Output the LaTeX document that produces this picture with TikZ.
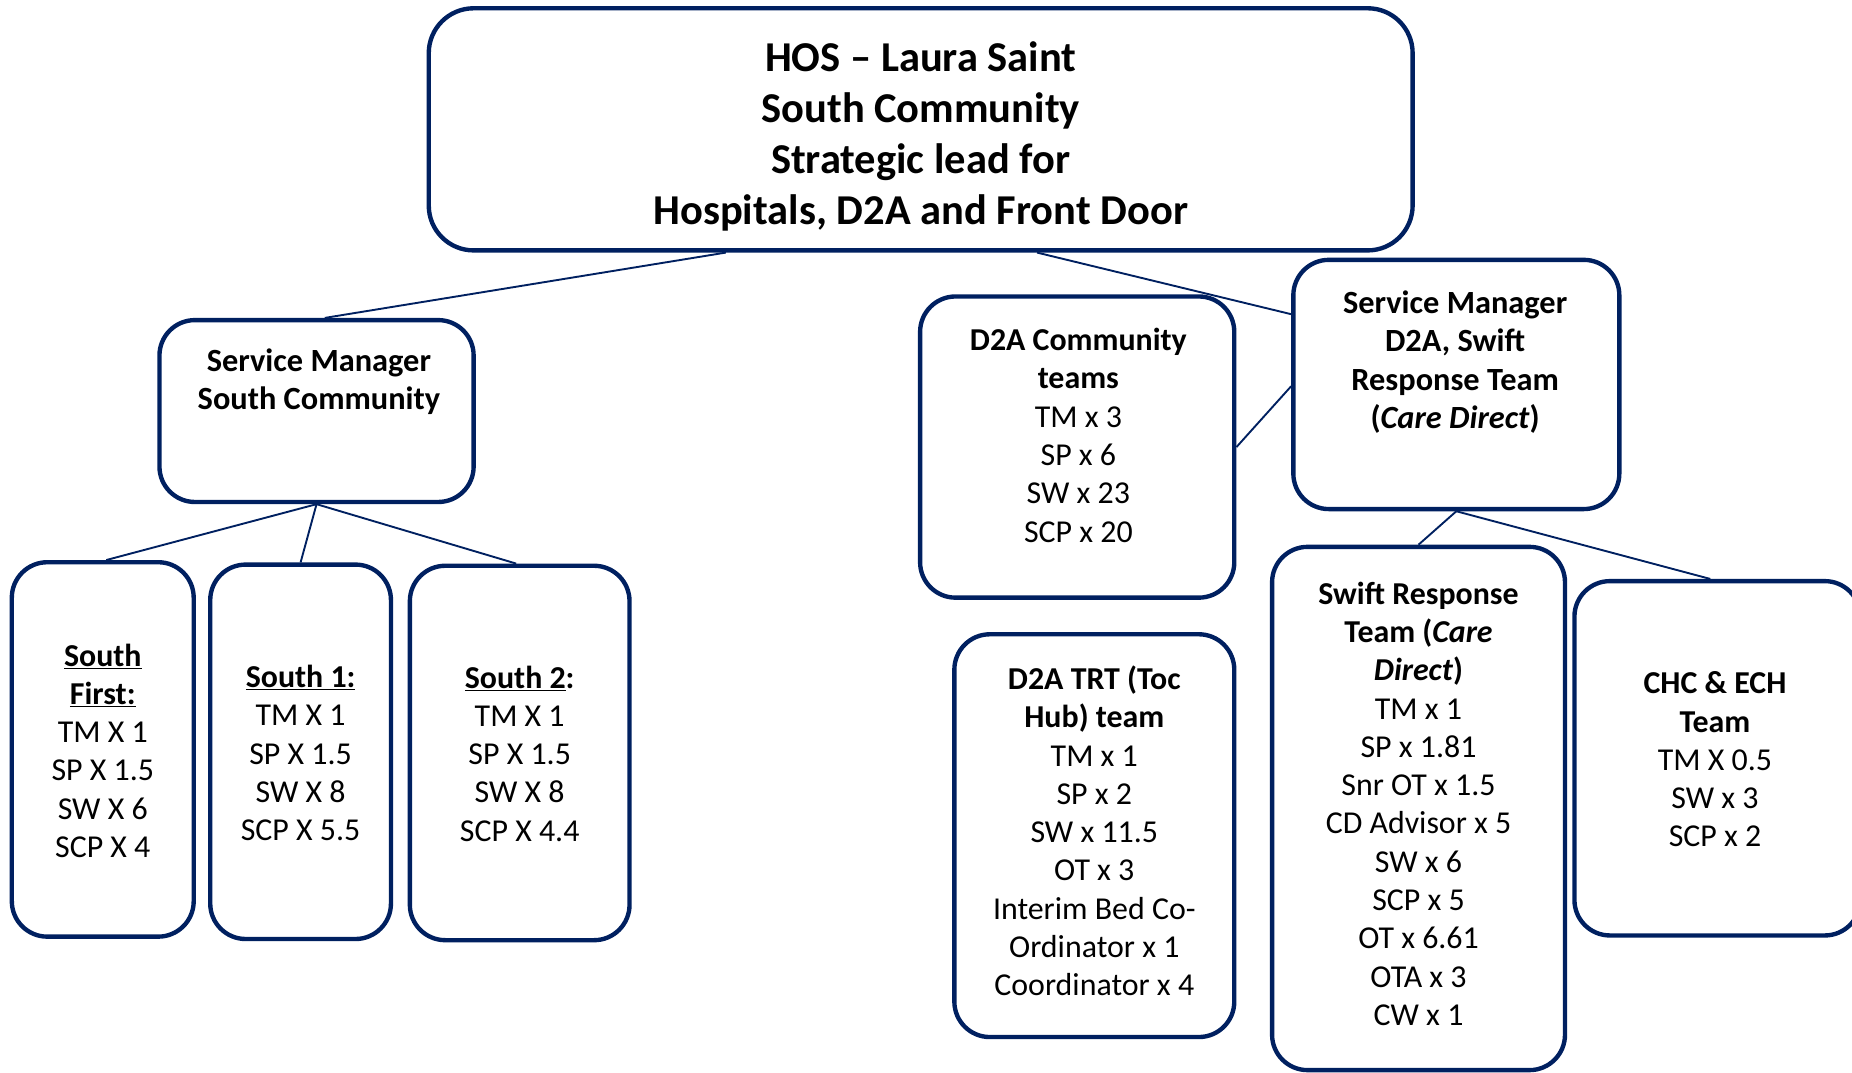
\documentclass[tikz,border=0pt]{standalone}
\usepackage{fontspec}
\setmainfont{Carlito}
\definecolor{navy}{HTML}{002060}
\tikzset{
  unit/.style={draw=navy, line width=3.7pt, rounded corners=30pt, inner sep=0pt},
  staff/.style={align=center, inner sep=0pt, font=\fontsize{27}{32.4}\selectfont},
  link/.style={navy, line width=1.6pt},
}

\begin{document}
\begin{tikzpicture}[x=1pt,y=-1pt]
		\useasboundingbox (0,0) rectangle (1568,908);
		% frames
		\node[unit, rounded corners=38pt, minimum width=833, minimum height=205] (hos) at (779.5,109.5) {};
		\node[unit, minimum width=266, minimum height=154] (smS) at (268,348) {};
		\node[unit, minimum width=154, minimum height=317] (sFirst) at (87,634.5) {};
		\node[unit, minimum width=153, minimum height=317] (sOne) at (254.5,636.5) {};
		\node[unit, minimum width=186, minimum height=317] (sTwo) at (440,637.5) {};
		\node[unit, minimum width=266, minimum height=255] (d2aC) at (912,378.5) {};
		\node[unit, minimum width=276, minimum height=211] (smD) at (1233,325.5) {};
		\node[unit, minimum width=237, minimum height=341] (trt) at (926.5,707.5) {};
		\node[unit, minimum width=248, minimum height=443] (swift) at (1201,684.5) {};
		\node[unit, minimum width=242, minimum height=300] (chc) at (1454,642) {};
		% texts
		\node[staff, font=\bfseries\fontsize{36}{43}\selectfont] (hosT) at (779.5,115.5)
			{HOS – Laura Saint\\South Community\\Strategic lead for\\Hospitals, D2A and Front Door};
		\node[staff, font=\bfseries\fontsize{27.4}{32.4}\selectfont] (smST) at (270,323)
			{Service Manager\\South Community};
		\node[staff] (sFirstT) at (87,635.5)
			{\textbf{\underline{South}}\\\textbf{\underline{First:}}\\TM X 1\\SP X 1.5\\SW X 6\\SCP X 4};
		\node[staff] (sOneT) at (254.5,637.5)
			{\textbf{\underline{South 1:}}\\TM X 1\\SP X 1.5\\SW X 8\\SCP X 5.5};
		\node[staff] (sTwoT) at (440,638)
			{\textbf{\underline{South 2}:}\\TM X 1\\SP X 1.5\\SW X 8\\SCP X 4.4};
		\node[staff] (d2aCT) at (913,368.5)
			{\textbf{D2A Community}\\\textbf{teams}\\TM x 3\\SP x 6\\SW x 23\\SCP x 20};
		\node[staff, font=\bfseries\fontsize{27.4}{32.4}\selectfont] (smDT) at (1232,306.5)
			{Service Manager\\D2A, Swift\\Response Team\\(\textit{Care Direct})};
		\node[staff] (trtT) at (926.5,703.5)
			{\textbf{D2A TRT (Toc}\\\textbf{Hub) team}\\TM x 1\\SP x 2\\SW x 11.5\\OT x 3\\Interim Bed Co-\\Ordinator x 1\\Coordinator x 4};
		\node[staff] (swiftT) at (1201,680.5)
			{\textbf{Swift Response}\\\textbf{Team (\textit{Care}}\\\textbf{\textit{Direct})}\\TM x 1\\SP x 1.81\\Snr OT x 1.5\\CD Advisor x 5\\SW x 6\\SCP x 5\\OT x 6.61\\OTA x 3\\CW x 1};
		\node[staff] (chcT) at (1452,643)
			{\textbf{CHC \& ECH}\\\textbf{Team}\\TM X 0.5\\SW x 3\\SCP x 2};
		% links
		\draw[link] ([xshift=-165pt]hos.south) -- ([xshift=7pt]smS.north);
		\draw[link] ([xshift=98.5pt]hos.south) -- ([yshift=59.5pt]smD.west);
		\draw[link] ([yshift=-1.5pt]smD.west) -- (d2aC.east);
		\foreach \t/\s in {sFirst/3,sOne/0,sTwo/-3}{
			\draw[link] (smS.south) -- ([xshift=\s pt]\t.north);
		}
		\draw[link] (smD.south) -- (swift.north);
		\draw[link] (smD.south) -- ([xshift=-6pt]chc.north);
	\end{tikzpicture}
\end{document}
